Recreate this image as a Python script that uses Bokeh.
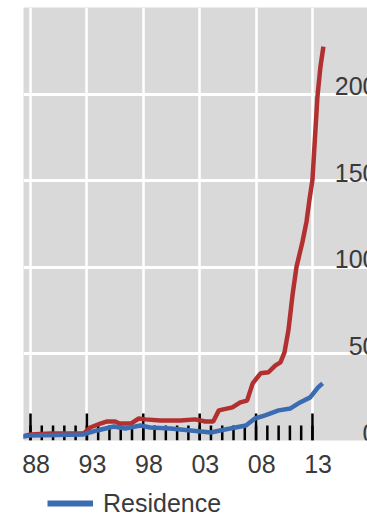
from bokeh.plotting import figure
from bokeh.layouts import column
from bokeh.models import Range1d, LinearAxis, FixedTicker, Grid, Legend, LegendItem, ColumnDataSource
from bokeh.core.properties import value
from bokeh.embed import file_html
from bokeh.resources import INLINE

# ---- data ----
red_years = [1987.25, 1988.0, 1989.8, 1992.7, 1993.3, 1994.2, 1994.8, 1995.5, 1995.9, 1996.9,
             1997.6, 1998.2, 1999.5, 2001.3, 2002.6, 2003.5, 2004.2, 2004.7, 2005.9, 2006.6,
             2007.2, 2007.7, 2008.4, 2009.1, 2009.72, 2010.16, 2010.52, 2010.87, 2011.23,
             2011.58, 2012.11, 2012.47, 2012.73, 2013.0, 2013.44, 2013.71, 2013.97]
red_values = [2.3, 3.5, 4.0, 4.0, 7.5, 9.8, 11.0, 11.0, 9.8, 9.8,
              12.7, 12.2, 11.6, 11.6, 12.2, 11.0, 11.0, 17.4, 19.1, 22.0,
              23.0, 33.0, 38.8, 39.4, 43.4, 45.1, 50.9, 63.7, 83.9,
              100.1, 114.6, 126.2, 138.9, 150.5, 198.5, 215.9, 227.4]

blue_years = [1987.25, 1988.0, 1992.7, 1993.9, 1995.4, 1996.4, 1997.75, 1998.6, 2000.4, 2002.2,
              2004.0, 2004.8, 2005.7, 2007.1, 2007.9, 2008.8, 2010.0, 2011.05, 2011.9, 2012.8,
              2013.5, 2013.9]
blue_values = [2.3, 2.9, 3.5, 5.8, 8.1, 6.9, 8.7, 7.5, 6.9, 5.8,
               4.6, 5.8, 6.9, 8.7, 12.7, 14.5, 17.4, 18.5, 22.0, 24.9,
               30.7, 33.0]

major_years = [1988, 1993, 1998, 2003, 2008, 2013]
minor_years = list(range(1988, 2014))
x_labels = ["88", "93", "98", "03", "08", "13"]
y_ticks = [0, 50, 100, 150, 200]
y_labels = ["0", "50", "100", "150", "200"]
series_name = "Residence"

# ---- layout constants ----
X0, X1 = 1987.38, 2017.88
Y0, Y1 = 0, 250
FRAME_H = 433
MAJOR_TICK_PX = 27
MINOR_TICK_PX = 15
FONT = "Liberation Sans"
TEXT_COLOR = "#3a3a3a"
RED = "#b23030"
BLUE = "#3b6cb2"

p = figure(frame_width=344, frame_height=FRAME_H, output_backend="svg", toolbar_location=None,
           x_axis_type=None, y_axis_type=None,
           x_range=Range1d(X0, X1), y_range=Range1d(Y0, Y1),
           min_border_left=23, min_border_right=0, min_border_top=7, min_border_bottom=48)
p.background_fill_color = "#d9d9d9"
p.border_fill_color = "white"
p.outline_line_color = None

xg = Grid(dimension=0, ticker=FixedTicker(ticks=major_years), grid_line_color="white",
          grid_line_width=2.5)
yg = Grid(dimension=1, ticker=FixedTicker(ticks=y_ticks[1:]), grid_line_color="white",
          grid_line_width=3)
p.add_layout(xg)
p.add_layout(yg)

# x axis: labels only, centred in the year
label_pos = [y + 0.5 for y in major_years]
ax = LinearAxis(ticker=FixedTicker(ticks=label_pos, minor_ticks=[]))
ax.major_label_overrides = {pos: lab for pos, lab in zip(label_pos, x_labels)}
ax.major_tick_in = 0
ax.major_tick_out = 0
ax.minor_tick_in = 0
ax.minor_tick_out = 0
ax.axis_line_color = None
ax.major_label_standoff = 14
ax.major_label_text_font = FONT
ax.major_label_text_font_size = "25px"
ax.major_label_text_color = TEXT_COLOR
p.add_layout(ax, "below")

# year ticks pointing up into the plot (taller every five years)
px_to_data = (Y1 - Y0) / FRAME_H
p.segment(x0=minor_years, y0=[Y0] * len(minor_years), x1=minor_years,
          y1=[Y0 + MINOR_TICK_PX * px_to_data] * len(minor_years),
          line_color="black", line_width=2.5)
p.segment(x0=major_years, y0=[Y0] * len(major_years), x1=major_years,
          y1=[Y0 + MAJOR_TICK_PX * px_to_data] * len(major_years),
          line_color="black", line_width=2.5)

red = p.line(red_years, red_values, line_color=RED, line_width=4.5)
blue = p.line(blue_years, blue_values, line_color=BLUE, line_width=4.5)

# y labels drawn inside the plot, right-aligned just past the frame edge
ysrc = ColumnDataSource(dict(x=[X1] * len(y_ticks), y=y_ticks, t=y_labels))
p.text(x="x", y="y", text="t", source=ysrc, text_align="right", text_baseline="alphabetic",
       x_offset=9, y_offset=-8, text_font=value(FONT), text_font_size="25px",
       text_color=TEXT_COLOR)

# ---- legend strip below the chart ----
LEG_H = 30
p2 = figure(width=367, height=LEG_H, output_backend="svg", toolbar_location=None,
            x_axis_type=None, y_axis_type=None, x_range=Range1d(0, 1), y_range=Range1d(0, 1),
            min_border=0, min_border_left=0, min_border_right=0, min_border_top=0,
            min_border_bottom=0)
p2.outline_line_color = None
p2.background_fill_color = "white"
p2.grid.visible = False
blue_key = p2.line(blue_years, blue_values, line_color=BLUE, line_width=6)
blue_key.visible = False

legend = Legend(items=[LegendItem(label=series_name, renderers=[blue_key])],
                location=(24, 0), orientation="horizontal",
                glyph_width=46, glyph_height=LEG_H, label_standoff=10,
                label_text_font=FONT, label_text_font_size="25px",
                label_text_color=TEXT_COLOR, border_line_color=None, background_fill_alpha=0,
                padding=0, margin=0)
p2.add_layout(legend)

layout = column(p, p2, spacing=0)
open("out.html", "w").write(file_html(layout, INLINE))
